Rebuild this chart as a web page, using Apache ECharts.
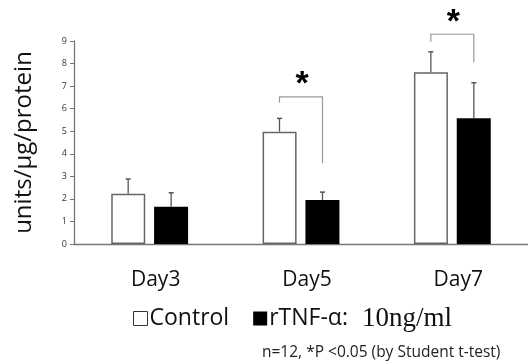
<!DOCTYPE html>
<html><head><meta charset="utf-8">
<script src="https://cdn.jsdelivr.net/npm/echarts@6/dist/echarts.min.js"></script>
<style>html,body{margin:0;padding:0;background:#fff}#c{width:528px;height:364px}</style>
</head><body><div id="c"></div>
<script>
const categories = ['Day3', 'Day5', 'Day7'];
const yTicks = [0, 1, 2, 3, 4, 5, 6, 7, 8, 9];
const controlValues = [2.23, 4.98, 7.61];
const controlErrTop = [2.88, 5.57, 8.52];
const tnfValues = [1.65, 1.95, 5.57];
const tnfErrTop = [2.27, 2.30, 7.15];
const bracketCat = [1, 2];
const bracketTop = [6.52, 9.30];
const bracketLeftEnd = [6.26, 8.97];
const bracketRightEnd = [3.58, 8.05];
const seriesNames = ['Control', 'rTNF-α: 10ng/ml'];
const footnote = 'n=12, *P <0.05 (by Student t-test)';

const BAR_W = 34, OFFSET = 21.5;
const chart = echarts.init(document.getElementById('c'), null, {renderer: 'canvas'});

function errItem(offset) {
  return function (params, api) {
    const i = api.value(0);
    const b = api.coord([i, api.value(1)]);
    const t = api.coord([i, api.value(2)]);
    const cx = b[0] + offset;
    return {type: 'group', children: [
      {type: 'line', shape: {x1: cx, y1: b[1], x2: cx, y2: t[1]}, style: {stroke: '#555', lineWidth: 1.3}},
      {type: 'line', shape: {x1: cx - 2.5, y1: t[1], x2: cx + 2.5, y2: t[1]}, style: {stroke: '#555', lineWidth: 1.5}}
    ]};
  };
}

chart.setOption({
  animation: false,
  grid: {left: 74, right: 0, top: 41, bottom: 120, containLabel: false},
  legend: {
    data: [
      {name: seriesNames[0], icon: 'rect', itemStyle: {color: '#fff', borderColor: '#333', borderWidth: 1}},
      {name: seriesNames[1], icon: 'rect', itemStyle: {color: '#000'}}
    ],
    left: 128, top: 300, itemWidth: 14, itemHeight: 14, itemGap: 24,
    textStyle: {fontFamily: 'Open Sans', fontSize: 23, color: '#111', padding: [0, 0, 0, -3],
      rich: {s: {fontFamily: 'Liberation Serif', fontSize: 27, color: '#111', padding: [0, 0, 0, 14]}}},
    formatter: function (n) { return n === seriesNames[1] ? 'rTNF-α:{s|10ng/ml}' : n; }
  },
  xAxis: {
    type: 'category', data: categories,
    axisLine: {lineStyle: {color: '#777', width: 1.3}},
    axisTick: {show: false},
    axisLabel: {fontFamily: 'Open Sans', fontSize: 21, color: '#111', margin: 26, padding: [0, 0, 0, 12]}
  },
  yAxis: {
    type: 'value', min: 0, max: 9, interval: 1,
    name: 'units/μg/protein', nameLocation: 'middle', nameGap: 38,
    nameTextStyle: {fontFamily: 'Open Sans', fontSize: 24, color: '#111'},
    axisLine: {show: true, lineStyle: {color: '#777', width: 1.3}},
    axisTick: {show: true, length: 4, lineStyle: {color: '#777'}},
    axisLabel: {fontFamily: 'Open Sans', fontSize: 9, color: '#333', margin: 7,
      formatter: function (v) { return yTicks.indexOf(v) >= 0 ? String(v) : ''; }},
    splitLine: {show: false}
  },
  series: [
    {name: seriesNames[0], type: 'bar', data: controlValues, barWidth: BAR_W, barGap: '26%',
      itemStyle: {color: '#fff', borderColor: '#666', borderWidth: 1.5}},
    {name: seriesNames[1], type: 'bar', data: tnfValues, barWidth: BAR_W, barGap: '26%',
      itemStyle: {color: '#000'}},
    {type: 'custom', renderItem: errItem(-OFFSET), z: 5,
      data: categories.map((c, i) => [i, controlValues[i], controlErrTop[i]])},
    {type: 'custom', renderItem: errItem(OFFSET), z: 5,
      data: categories.map((c, i) => [i, tnfValues[i], tnfErrTop[i]])},
    {type: 'custom', z: 6, clip: false,
      data: bracketCat.map((c, i) => [c, bracketTop[i], bracketLeftEnd[i], bracketRightEnd[i]]),
      renderItem: function (params, api) {
        const i = api.value(0);
        const top = api.coord([i, api.value(1)]);
        const l = api.coord([i, api.value(2)]);
        const r = api.coord([i, api.value(3)]);
        const xl = top[0] - OFFSET, xr = top[0] + OFFSET;
        return {type: 'group', children: [
          {type: 'polyline', shape: {points: [[xl, l[1]], [xl, top[1]], [xr, top[1]], [xr, r[1]]]},
            style: {stroke: '#999', lineWidth: 1.2, fill: null}},
          {type: 'text', x: top[0] + 1, y: top[1] + 5,
            style: {text: '*', font: 'bold 34px "Liberation Sans"', fill: '#000', align: 'center', verticalAlign: 'bottom'}}
        ]};
      }}
  ],
  graphic: [
    {type: 'text', left: 262, top: 345,
      style: {text: footnote, font: '15.5px "Open Sans"', fill: '#222'}}
  ]
});
</script></body></html>
